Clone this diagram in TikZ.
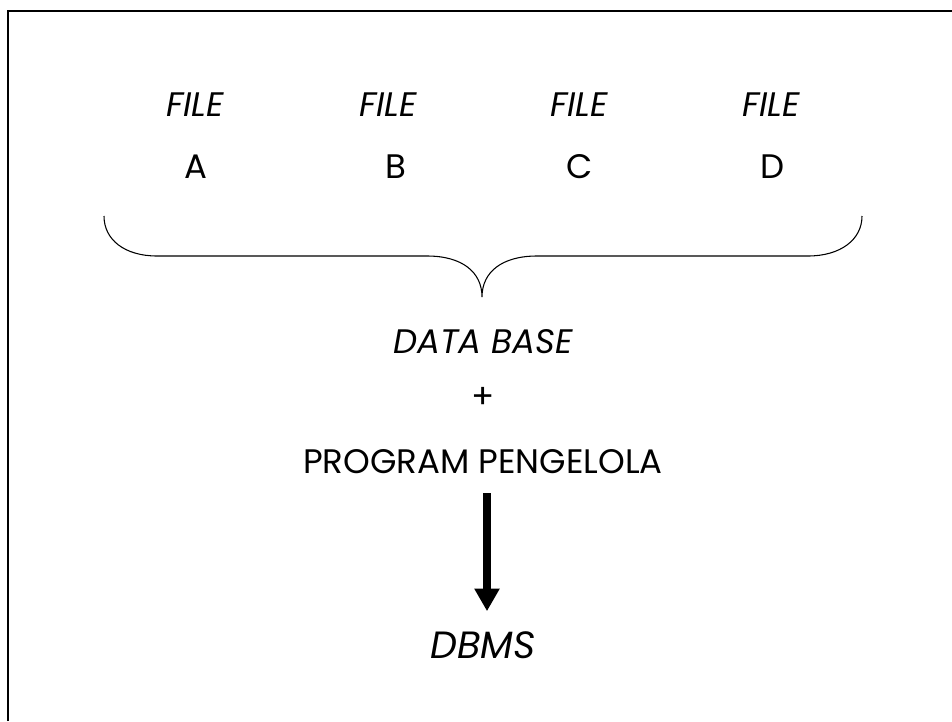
\documentclass[tikz,border=0pt]{standalone}
\usepackage{fontspec}
\setmainfont{Poppins}
\usetikzlibrary{arrows.meta}
\begin{document}
\begin{tikzpicture}[x=0.75pt,y=-0.75pt,
  lbl/.style={font=\fontsize{25.5}{28}\selectfont, inner sep=0pt},
  ilbl/.style={lbl, font=\fontsize{25.5}{28}\selectfont\itshape},
  big/.style={inner sep=0pt, font=\fontsize{28.5}{32}\selectfont\itshape},
  frame/.style={line width=1.9pt},
  brace/.style={line width=0.8pt},
  bigarrow/.style={line width=6.3pt, -{Triangle[width=18pt,length=17pt]}}]
\useasboundingbox (0,0) rectangle (952,721);

% frame: top and left edges only
\draw[frame] (8,721) -- (8,11) -- (952,11);

% file labels
\node[ilbl] (f1) at (195,105) {FILE};
\node[ilbl] (f2) at (388,105) {FILE};
\node[ilbl] (f3) at (579,105) {FILE};
\node[ilbl] (f4) at (771,105) {FILE};
\node[lbl] (a) at (196,167) {A};
\node[lbl] (b) at (396,167) {B};
\node[lbl] (c) at (580,167) {C};
\node[lbl] (d) at (773,167) {D};

% brace grouping the files
\coordinate (bl) at (104,216);
\coordinate (br) at (862,216);
\coordinate (tip) at (482,297);
\draw[brace] (bl) .. controls (104,240) and (125,256) .. (157,256)
  -- (427,256) .. controls (462,256) and (482,272) .. (tip)
  .. controls (482,272) and (502,256) .. (537,256)
  -- (808,256) .. controls (840,256) and (862,240) .. (br);

% lower column
\node[ilbl] (db) at (483,342) {DATA BASE};
\node[lbl] (plus) at (483,398) {+};
\node[lbl] (prog) at (483,462) {PROGRAM PENGELOLA};
\node[big] (dbms) at (483,645) {DBMS};

\draw[bigarrow] ([xshift=3pt,yshift=-14pt]prog.south) -- ([xshift=3pt,yshift=15pt]dbms.north);
\end{tikzpicture}
\end{document}
